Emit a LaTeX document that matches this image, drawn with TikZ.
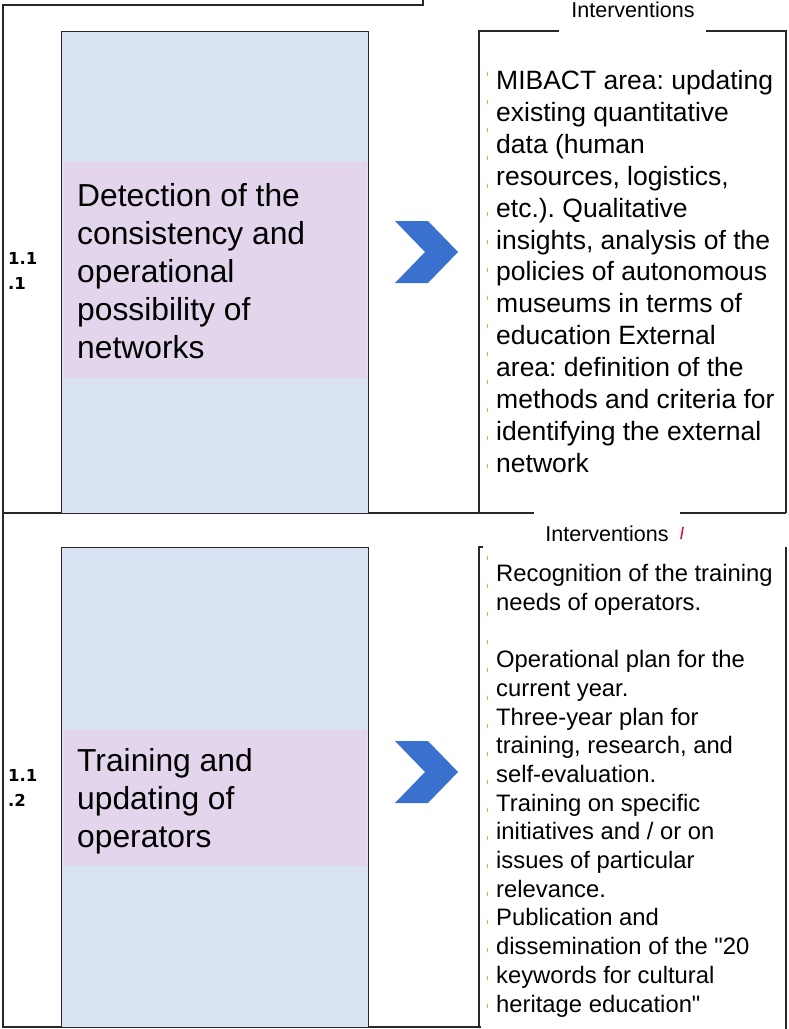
\documentclass[tikz,border=0pt]{standalone}
\usepackage{fontspec}
\setmainfont{Liberation Sans}
\newfontfamily\plainsans{Liberation Sans}
\newfontfamily\numfont{DejaVu Sans}
\frenchspacing
\definecolor{boxblue}{RGB}{217,226,243}
\definecolor{hilite}{RGB}{226,213,236}
\definecolor{chev}{RGB}{59,113,206}
\definecolor{rulec}{RGB}{40,40,40}
\definecolor{tickc}{RGB}{238,160,80}
\definecolor{redmark}{RGB}{230,10,70}
\tikzset{
  rulel/.style={draw=rulec, line width=1.3pt},
  bluebox/.style={rectangle, fill=boxblue, draw=rulec, line width=1.3pt, inner sep=0pt, anchor=north west},
  hlbox/.style={rectangle, fill=hilite, inner sep=0pt, anchor=north west},
  bigtext/.style={anchor=base west, align=left, inner sep=0pt, font=\plainsans\fontsize{31.8}{38.2}\selectfont},
  righttextA/.style={anchor=base west, align=left, inner sep=0pt, font=\plainsans\fontsize{26.5}{31.9}\selectfont},
  righttextB/.style={anchor=base west, align=left, inner sep=0pt, font=\plainsans\fontsize{23.8}{28.7}\selectfont},
  headlabel/.style={anchor=base, inner sep=0pt, font=\plainsans\fontsize{21.5}{24}\selectfont},
  numlabel/.style={anchor=base west, align=left, inner sep=0pt, font=\numfont\bfseries\fontsize{16.5}{25}\selectfont},
  ticks/.style={draw=tickc, line width=1pt, dash pattern=on 4pt off 24pt},
  chevron/.pic={\fill[chev] (-31.5,-31) -- (1.5,-31) -- (31.5,0) -- (1.5,31) -- (-31.5,31) -- (-1.5,0) -- cycle;}
}
\begin{document}
\begin{tikzpicture}[x=1pt,y=-1pt]
\useasboundingbox (0,0) rectangle (788,1029);
% outer frame lines
\draw[rulel] (423,0) -- (423,5) -- (3,5) -- (3,1027) -- (481,1027);
\draw[rulel] (3,513) -- (534,513);
\draw[rulel] (680,513) -- (786,513);
% row 1 (multi-line nodes: base = baseline of the last line)
\node[bluebox, minimum width=307pt, minimum height=482pt] (b1) at (61,31) {};
\node[hlbox, minimum width=303pt, minimum height=216pt] (h1) at (64,162) {};
\node[bigtext] (t1) at (77,358.8) {Detection of the\\consistency and\\operational\\possibility of\\networks};
\node[numlabel] (n1) at (8,289) {1.1\\.1};
\pic at (426.5,252) {chevron};
\node[headlabel] (i1) at (633,17) {Interventions};
\draw[rulel] (559,31) -- (479,31) -- (479,513);
\draw[rulel] (706,31) -- (786,31) -- (786,513);
\draw[ticks] (487,72) -- (487,472);
\node[righttextA] (r1) at (496,472.3) {MIBACT area: updating\\existing quantitative\\data (human\\resources, logistics,\\etc.). Qualitative\\insights, analysis of the\\policies of autonomous\\museums in terms of\\education External\\area: definition of the\\methods and criteria for\\identifying the external\\network};
% row 2
\node[headlabel] (i2) at (607,541) {Interventions};
\draw[draw=redmark, line width=1.6pt] (681,539) -- (683,527);
\node[bluebox, minimum width=307pt, minimum height=480pt] (b2) at (61,547) {};
\node[hlbox, minimum width=303pt, minimum height=136pt] (h2) at (64,730) {};
\node[bigtext] (t2) at (77,847.4) {Training and\\updating of\\operators};
\node[numlabel] (n2) at (8,806) {1.1\\.2};
\pic at (426.5,772) {chevron};
\draw[rulel] (483,547) -- (479,547) -- (479,1027);
\draw[rulel] (786,547) -- (786,1029);
\draw[ticks] (487,556) -- (487,1025);
\node[righttextB] (r2) at (496,1012) {Recognition of the training\\needs of operators.\\\\Operational plan for the\\current year.\\Three-year plan for\\training, research, and\\self-evaluation.\\Training on specific\\initiatives and / or on\\issues of particular\\relevance.\\Publication and\\dissemination of the "20\\keywords for cultural\\heritage education"};
\end{tikzpicture}
\end{document}
